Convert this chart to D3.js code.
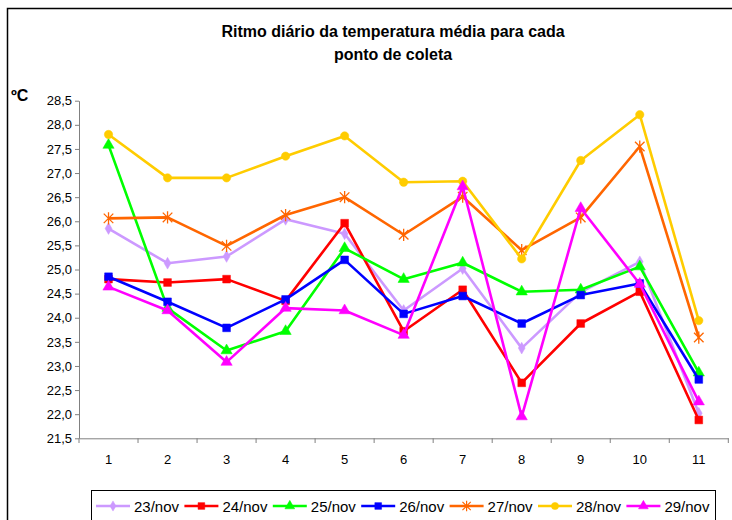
<!DOCTYPE html>
<html><head><meta charset="utf-8">
<script src="https://cdn.jsdelivr.net/npm/d3@7"></script>
<style>
html,body{margin:0;padding:0;background:#fff;}
svg{display:block;font-family:"Liberation Sans",Arial,sans-serif;}
</style></head>
<body><svg id="chart" width="732" height="520"></svg>
<script>
const categories = [1,2,3,4,5,6,7,8,9,10,11];
const seriesNames = ["23/nov","24/nov","25/nov","26/nov","27/nov","28/nov","29/nov"];
const nov23 = [25.85,25.13,25.27,26.04,25.74,24.15,25.02,23.37,24.53,25.16,22.02];
const nov24 = [24.80,24.73,24.80,24.35,25.96,23.72,24.58,22.65,23.88,24.54,21.88];
const nov25 = [27.58,24.20,23.32,23.72,25.44,24.80,25.14,24.54,24.58,25.06,22.86];
const nov26 = [24.85,24.33,23.79,24.38,25.20,24.08,24.45,23.88,24.47,24.71,22.72];
const nov27 = [26.06,26.08,25.49,26.13,26.50,25.72,26.51,25.40,26.08,27.55,23.59];
const nov28 = [27.80,26.90,26.90,27.35,27.77,26.81,26.83,25.22,27.26,28.21,23.94];
const nov29 = [24.64,24.15,23.08,24.20,24.15,23.64,26.72,21.95,26.27,24.70,22.26];
const yTicks = [21.5,22.0,22.5,23.0,23.5,24.0,24.5,25.0,25.5,26.0,26.5,27.0,27.5,28.0,28.5];
const titleLines = ["Ritmo diário da temperatura média para cada","ponto de coleta"];
const yLabel = "ºC";

const values = [nov23,nov24,nov25,nov26,nov27,nov28,nov29];
const colors = ["#CC99FF","#FF0000","#00FF00","#0000FF","#FF6600","#FFCC00","#FF00FF"];

const starX = {draw(ctx,size){const r=Math.sqrt(size)/2;
  ctx.moveTo(0,-r);ctx.lineTo(0,r);
  const d=r*0.78;ctx.moveTo(-d,-d);ctx.lineTo(d,d);ctx.moveTo(-d,d);ctx.lineTo(d,-d);}};
const markers = [
  {type:d3.symbolDiamond,size:40,fill:true},
  {type:d3.symbolSquare,size:60,fill:true},
  {type:d3.symbolTriangle,size:55,fill:true},
  {type:d3.symbolSquare,size:60,fill:true},
  {type:starX,size:150,fill:false},
  {type:d3.symbolCircle,size:55,fill:true},
  {type:d3.symbolTriangle,size:55,fill:true}
];

const svg = d3.select("#chart");
// outer frame
svg.append("rect").attr("x",7.5).attr("y",8.5).attr("width",760).attr("height",560)
  .attr("fill","none").attr("stroke","#000").attr("stroke-width",1.5);

const x = d3.scaleBand().domain(categories).range([79,728.3]).padding(0);
const y = d3.scaleLinear().domain([21.5,28.5]).range([438.3,100.7]);

// title
svg.append("g").selectAll("text").data(titleLines).join("text")
  .attr("x",393).attr("y",(d,i)=>36.5+i*23.5).attr("text-anchor","middle")
  .attr("font-weight","bold").attr("font-size",16).text(d=>d);
svg.append("text").attr("x",11).attr("y",101).attr("font-weight","bold").attr("font-size",16).text(yLabel);

// y axis
const yAxis = svg.append("g").attr("transform","translate(79,0)")
  .call(d3.axisLeft(y).tickValues(yTicks).tickSize(4).tickSizeOuter(0)
    .tickFormat(d=>d3.format(".1f")(d).replace(".",",")));
yAxis.select(".domain").attr("stroke","#808080");
yAxis.selectAll(".tick line").attr("stroke","#808080");
yAxis.selectAll(".tick text").attr("font-size",13).attr("fill","#000")
  .attr("font-family","Liberation Sans, Arial, sans-serif").attr("x",-7);

// x axis
const xAxis = svg.append("g").attr("transform","translate(0,438.3)")
  .call(d3.axisBottom(x).tickSize(0).tickSizeOuter(0).tickPadding(16));
xAxis.select(".domain").attr("stroke","#808080");
xAxis.selectAll(".tick text").attr("font-size",13).attr("fill","#000")
  .attr("font-family","Liberation Sans, Arial, sans-serif");
const bounds = categories.map(c=>x(c)).concat([x(categories[categories.length-1])+x.bandwidth()]);
svg.append("g").selectAll("line").data(bounds).join("line")
  .attr("x1",d=>d).attr("x2",d=>d).attr("y1",438.3).attr("y2",443)
  .attr("stroke","#808080");

// series
const line = d3.line().x((d,i)=>x(categories[i])+x.bandwidth()/2).y(d=>y(d));
values.forEach((vals,si)=>{
  const g = svg.append("g");
  g.append("path").attr("d",line(vals)).attr("fill","none")
    .attr("stroke",colors[si]).attr("stroke-width",2.6).attr("stroke-linejoin","round");
  const m = markers[si];
  g.selectAll("path.m").data(vals).join("path").attr("class","m")
    .attr("transform",(d,i)=>`translate(${x(categories[i])+x.bandwidth()/2},${y(d)})`)
    .attr("d",d3.symbol().type(m.type).size(m.size))
    .attr("fill",m.fill?colors[si]:"none")
    .attr("stroke",colors[si]).attr("stroke-width",m.fill?0.5:1.3);
});

// legend
svg.append("rect").attr("x",91.5).attr("y",490.5).attr("width",624).attr("height",60)
  .attr("fill","#fff").attr("stroke","#000").attr("stroke-width",1);
const leg = svg.append("g").selectAll("g").data(seriesNames).join("g")
  .attr("transform",(d,i)=>`translate(${96+i*88.4},506)`);
leg.append("line").attr("x1",0).attr("x2",34).attr("y1",0).attr("y2",0)
  .attr("stroke",(d,i)=>colors[i]).attr("stroke-width",2.6);
leg.append("path").attr("transform","translate(17,0)")
  .attr("d",(d,i)=>d3.symbol().type(markers[i].type).size(markers[i].size*0.75)())
  .attr("fill",(d,i)=>markers[i].fill?colors[i]:"none")
  .attr("stroke",(d,i)=>colors[i]).attr("stroke-width",(d,i)=>markers[i].fill?0.5:1.2);
leg.append("text").attr("x",38).attr("y",5.5).attr("font-size",15)
  .attr("textLength",45).attr("lengthAdjust","spacingAndGlyphs").text(d=>d);
</script></body></html>
